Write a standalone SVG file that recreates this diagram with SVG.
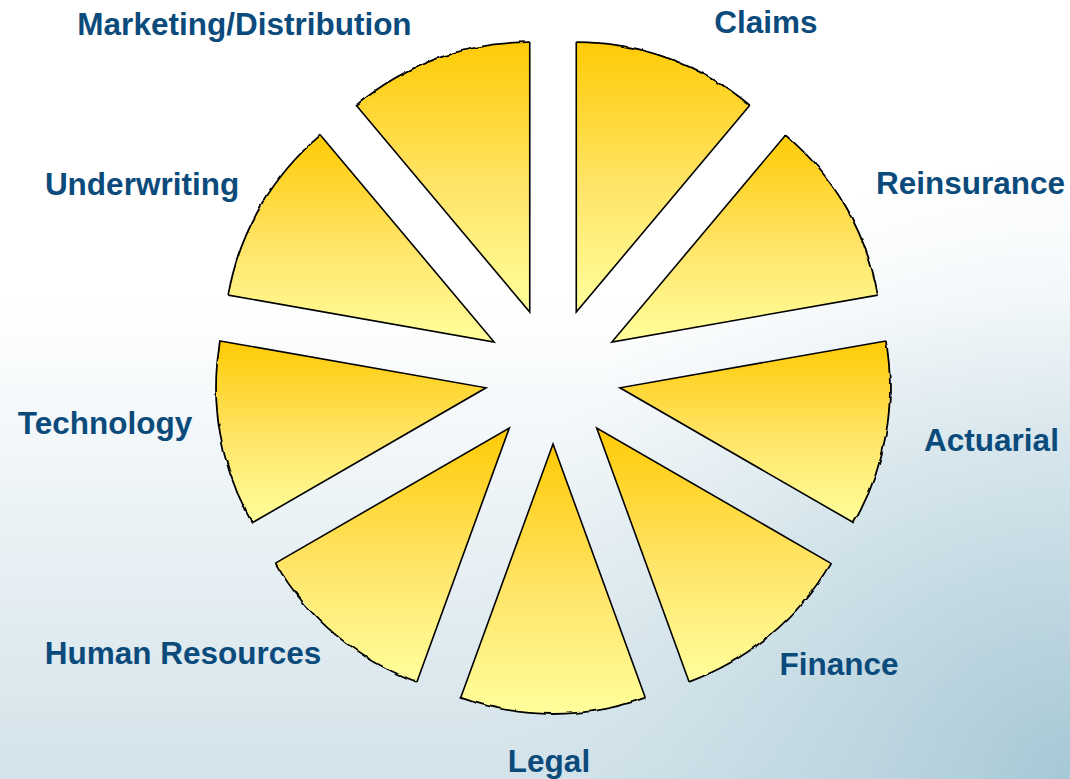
<svg xmlns="http://www.w3.org/2000/svg" width="1070" height="779" viewBox="0 0 1070 779">
  <defs>
    <!-- page background: white fading to pale steel blue towards the bottom right -->
    <linearGradient id="bgV" gradientUnits="userSpaceOnUse" x1="0" y1="300" x2="0" y2="779">
      <stop offset="0" stop-color="#ffffff"/>
      <stop offset="1" stop-color="#d3e3ea"/>
    </linearGradient>
    <radialGradient id="bgR" gradientUnits="userSpaceOnUse" cx="1070" cy="779" r="620">
      <stop offset="0" stop-color="#a4c6d4" stop-opacity="0.95"/>
      <stop offset="0.55" stop-color="#b8d3de" stop-opacity="0.45"/>
      <stop offset="1" stop-color="#d3e3ea" stop-opacity="0"/>
    </radialGradient>
    <!-- slice fill: golden at the top, pale lemon at the bottom -->
    <linearGradient id="sliceFill" x1="0" y1="0" x2="0" y2="1">
      <stop offset="0" stop-color="#ffcb05"/>
      <stop offset="0.55" stop-color="#ffe56a"/>
      <stop offset="1" stop-color="#ffff9c"/>
    </linearGradient>
    <!-- slightly wavy, hand-cut look for the outer rims -->
    <filter id="rough" x="-10%" y="-10%" width="120%" height="120%">
      <feTurbulence type="fractalNoise" baseFrequency="0.07" numOctaves="2" seed="5" result="n"/>
      <feDisplacementMap in="SourceGraphic" in2="n" scale="3.5" xChannelSelector="R" yChannelSelector="G"/>
    </filter>
  </defs>
  <style>
    .fill { fill: url(#sliceFill); stroke: none; }
    .edge { fill: none; stroke: #000; stroke-width: 1.6; stroke-linejoin: miter; }
    .rim { fill: none; stroke: #000; stroke-width: 1.8; filter: url(#rough); }
    .label { font-family: "Liberation Sans", Arial, sans-serif; font-weight: bold; font-size: 31.5px; fill: #0b4b7c; text-anchor: middle; }
  </style>

  <rect width="1070" height="779" fill="url(#bgV)"/>
  <rect width="1070" height="779" fill="url(#bgR)"/>

  <!-- nine 40-degree slices, each pushed 68px out from (553,376), radius 270 -->
  <g id="marketing">
    <path class="fill" d="M529.74,312.10 L356.18,105.28 A270,270 0 0 1 529.74,42.10 Z"/>
    <path class="edge" d="M529.74,42.10 L529.74,312.10 L356.18,105.28"/>
    <path class="rim" d="M356.18,105.28 A270,270 0 0 1 529.74,42.10"/>
    <text class="label" x="244.5" y="35">Marketing/Distribution</text>
  </g>

  <g id="claims">
    <path class="fill" d="M576.26,312.10 L576.26,42.10 A270,270 0 0 1 749.82,105.28 Z"/>
    <path class="edge" d="M749.82,105.28 L576.26,312.10 L576.26,42.10"/>
    <path class="rim" d="M576.26,42.10 A270,270 0 0 1 749.82,105.28"/>
    <text class="label" x="766" y="33">Claims</text>
  </g>

  <g id="reinsurance">
    <path class="fill" d="M611.89,342 L785.45,135.18 A270,270 0 0 1 877.79,295.13 Z"/>
    <path class="edge" d="M877.79,295.13 L611.89,342 L785.45,135.18"/>
    <path class="rim" d="M785.45,135.18 A270,270 0 0 1 877.79,295.13"/>
    <text class="label" x="970.5" y="194">Reinsurance</text>
  </g>

  <g id="actuarial">
    <path class="fill" d="M619.97,387.80 L885.87,340.93 A270,270 0 0 1 853.79,522.80 Z"/>
    <path class="edge" d="M853.79,522.80 L619.97,387.80 L885.87,340.93"/>
    <path class="rim" d="M885.87,340.93 A270,270 0 0 1 853.79,522.80"/>
    <text class="label" x="991.5" y="451">Actuarial</text>
  </g>

  <g id="finance">
    <path class="fill" d="M596.71,428.09 L830.53,563.09 A270,270 0 0 1 689.05,681.81 Z"/>
    <path class="edge" d="M689.05,681.81 L596.71,428.09 L830.53,563.09"/>
    <path class="rim" d="M830.53,563.09 A270,270 0 0 1 689.05,681.81"/>
    <text class="label" x="839" y="675">Finance</text>
  </g>

  <g id="legal">
    <path class="fill" d="M553,444 L645.34,697.72 A270,270 0 0 1 460.66,697.72 Z"/>
    <path class="edge" d="M460.66,697.72 L553,444 L645.34,697.72"/>
    <path class="rim" d="M645.34,697.72 A270,270 0 0 1 460.66,697.72"/>
    <text class="label" x="549" y="772">Legal</text>
  </g>

  <g id="human-resources">
    <path class="fill" d="M509.29,428.09 L416.95,681.81 A270,270 0 0 1 275.47,563.09 Z"/>
    <path class="edge" d="M275.47,563.09 L509.29,428.09 L416.95,681.81"/>
    <path class="rim" d="M416.95,681.81 A270,270 0 0 1 275.47,563.09"/>
    <text class="label" x="183" y="664">Human Resources</text>
  </g>

  <g id="technology">
    <path class="fill" d="M486.03,387.80 L252.21,522.80 A270,270 0 0 1 220.13,340.93 Z"/>
    <path class="edge" d="M220.13,340.93 L486.03,387.80 L252.21,522.80"/>
    <path class="rim" d="M252.21,522.80 A270,270 0 0 1 220.13,340.93"/>
    <text class="label" x="105" y="434">Technology</text>
  </g>

  <g id="underwriting">
    <path class="fill" d="M494.11,342 L228.21,295.13 A270,270 0 0 1 320.55,135.18 Z"/>
    <path class="edge" d="M320.55,135.18 L494.11,342 L228.21,295.13"/>
    <path class="rim" d="M228.21,295.13 A270,270 0 0 1 320.55,135.18"/>
    <text class="label" x="142" y="195">Underwriting</text>
  </g>

  <!-- no connectors in this diagram -->
  <g id="connectors"/>
</svg>
